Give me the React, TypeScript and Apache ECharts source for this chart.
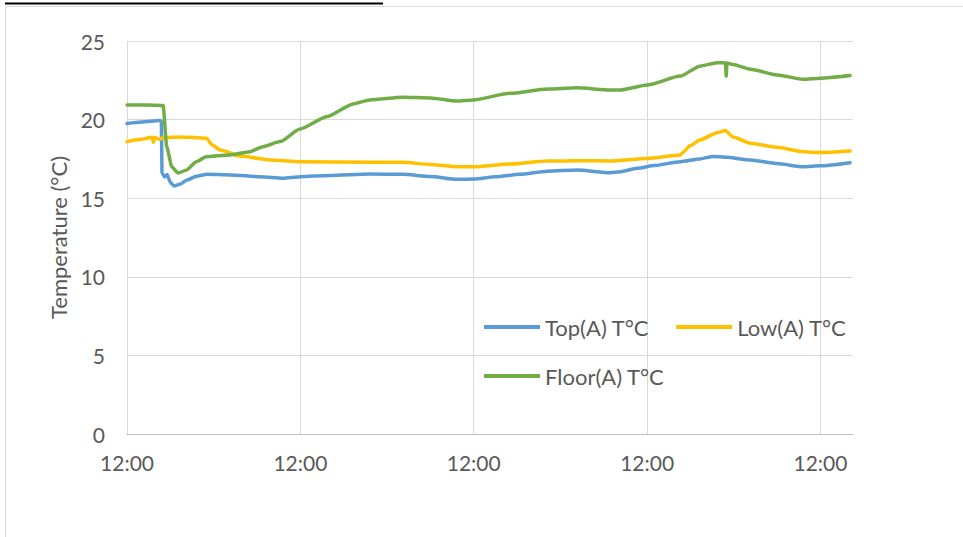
import { useEffect, useRef } from "react";
import * as echarts from "echarts";

const seriesNames = ["Top(A) T°C", "Low(A) T°C", "Floor(A) T°C"];
const seriesColors = ["#5B9BD5", "#FFC000", "#70AD47"];
const xTickLabel = "12:00";
const xMinHours = 0;
const xMaxHours = 100.5;
const xTickHours = 24;
const yMin = 0;
const yMax = 25;
const yTick = 5;

// [hours since first 12:00, °C]
const topA: [number, number][] = [
  [0, 19.75], [2, 19.85], [4.5, 19.95], [4.75, 19.9], [4.85, 16.6], [5.2, 16.35], [5.55, 16.5],
  [6.0, 16.0], [6.5, 15.78], [7.3, 15.88], [8.3, 16.16], [9.6, 16.4], [11.1, 16.52],
  [14.3, 16.48], [18.4, 16.37], [21.6, 16.27], [24, 16.37], [28, 16.44], [33.6, 16.54],
  [38.2, 16.52], [42, 16.38], [45.7, 16.2], [48, 16.22], [51, 16.36], [54.4, 16.52],
  [58.2, 16.72], [62.3, 16.79], [66.9, 16.62], [68.3, 16.68], [70.6, 16.9], [73, 17.08],
  [76.6, 17.32], [79.3, 17.5], [81.1, 17.66], [83, 17.6], [86.3, 17.43], [90, 17.2],
  [93.6, 17.0], [96, 17.06], [100.1, 17.26],
];

const lowA: [number, number][] = [
  [0, 18.6], [2, 18.75], [3.5, 18.87], [3.65, 18.55], [3.8, 18.86], [4.5, 18.75],
  [5.0, 18.85], [7.5, 18.9], [11.0, 18.82], [11.8, 18.38], [12.9, 18.07], [15.65, 17.68],
  [19.8, 17.43], [24, 17.32], [33.6, 17.28], [38.2, 17.28], [42, 17.15], [45.7, 17.0],
  [48, 17.0], [53, 17.17], [58.2, 17.36], [62.3, 17.38], [66.9, 17.37], [72, 17.53],
  [76.6, 17.75], [76.8, 17.86], [78, 18.35], [79.3, 18.7], [81.7, 19.17], [82.8, 19.3],
  [83.9, 18.9], [86.3, 18.5], [90, 18.24], [93.6, 17.96], [96, 17.9], [100.1, 18.0],
];

const floorA: [number, number][] = [
  [0, 20.93], [3, 20.93], [5.0, 20.9], [5.5, 18.28], [6.2, 17.0], [7.06, 16.6],
  [8.26, 16.8], [9.6, 17.32], [10.94, 17.64], [14.26, 17.75], [17.03, 17.96],
  [18.8, 18.28], [21.2, 18.6], [23.95, 19.4], [27.7, 20.2], [31.3, 21.0], [33.6, 21.25],
  [38.2, 21.42], [42, 21.38], [45.7, 21.18], [47.9, 21.25], [53, 21.67], [58.2, 21.95],
  [62.3, 22.02], [66.9, 21.88], [68.3, 21.88], [72, 22.2], [76.6, 22.77], [79.3, 23.4],
  [81.7, 23.62], [82.85, 23.6], [82.95, 22.75], [83.05, 23.6], [83.9, 23.5], [86.3, 23.2],
  [90, 22.84], [93.6, 22.56], [96, 22.63], [100.1, 22.8],
];

const seriesData = [topA, lowA, floorA];

const FONT = "Lato";
const TEXT = "#595959";

export default function App() {
  const ref = useRef<HTMLDivElement>(null);
  useEffect(() => {
    document.body.style.margin = "0";
    const chart = echarts.init(ref.current!, null, { renderer: "svg" });
    const legendBase = {
      left: 484,
      padding: 0,
      icon: "rect",
      itemWidth: 56,
      itemHeight: 4,
      itemGap: 27,
      textStyle: { color: TEXT, fontSize: 22, fontFamily: FONT },
    };
    chart.setOption({
      animation: false,
      backgroundColor: "#ffffff",
      textStyle: { fontFamily: FONT },
      grid: { left: 127, right: 110, top: 41, bottom: 103, containLabel: false },
      graphic: [
        {
          type: "rect",
          shape: { x: 5.5, y: 6.5, width: 1100, height: 1100 },
          style: { fill: "none", stroke: "#d9d9d9", lineWidth: 1 },
          silent: true,
        },
        {
          type: "line",
          shape: { x1: 5, y1: 3.5, x2: 383, y2: 3.5 },
          style: { stroke: "#000000", lineWidth: 2 },
          silent: true,
        },
      ],
      legend: [
        { ...legendBase, data: [seriesNames[0], seriesNames[1]], top: 316 },
        { ...legendBase, data: [seriesNames[2]], top: 365 },
      ],
      xAxis: {
        type: "value",
        min: xMinHours,
        max: xMaxHours,
        interval: xTickHours,
        axisLine: { show: true, lineStyle: { color: "#bfbfbf", width: 1 } },
        axisTick: { show: false },
        axisLabel: {
          color: TEXT,
          fontSize: 21,
          fontFamily: FONT,
          margin: 18,
          showMaxLabel: false,
          formatter: () => xTickLabel,
        },
        splitLine: { show: true, showMaxLine: false, lineStyle: { color: "#d9d9d9", width: 1 } },
      },
      yAxis: {
        type: "value",
        min: yMin,
        max: yMax,
        interval: yTick,
        name: "Temperature (°C)",
        nameLocation: "middle",
        nameRotate: 90,
        nameGap: 58,
        nameTextStyle: { color: TEXT, fontSize: 22, fontFamily: FONT },
        axisLine: { show: false },
        axisTick: { show: false },
        axisLabel: { color: TEXT, fontSize: 21, fontFamily: FONT, margin: 22 },
        splitLine: { show: true, lineStyle: { color: "#d9d9d9", width: 1 } },
      },
      series: seriesData.map((d, i) => ({
        name: seriesNames[i],
        type: "line",
        data: d,
        symbol: "none",
        showSymbol: false,
        smooth: 0.2,
        smoothMonotone: "x",
        color: seriesColors[i],
        itemStyle: { color: seriesColors[i] },
        lineStyle: { width: 3.5, color: seriesColors[i], cap: "round", join: "round" },
        z: 2 + i,
      })),
    });
    return () => chart.dispose();
  }, []);
  return <div ref={ref} style={{ width: 963, height: 537, background: "#fff" }} />;
}
